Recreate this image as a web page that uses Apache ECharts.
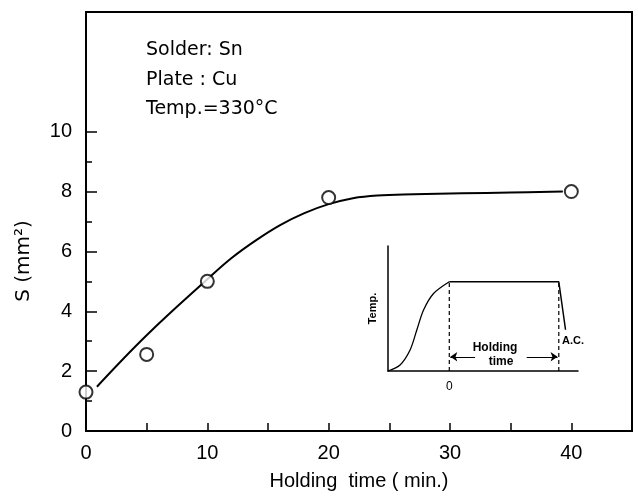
<!DOCTYPE html>
<html>
<head>
<meta charset="utf-8">
<script src="https://cdn.jsdelivr.net/npm/echarts@6/dist/echarts.min.js"></script>
<style>html,body{margin:0;padding:0;background:#fff}#c{width:638px;height:496px}</style>
</head>
<body>
<div id="c"></div>
<script>
// Measured points
const timeMin = [0, 5, 10, 20, 40];
const areaMm2 = [1.3, 2.56, 5.0, 7.8, 8.0];
// Fitted curve
const fitTime = [0.9, 5, 10, 12, 14, 16, 18, 20, 22, 24, 27, 31, 35, 39.3];
const fitArea = [1.48, 3.2, 5.07, 5.78, 6.37, 6.88, 7.28, 7.58, 7.78, 7.87, 7.91, 7.94, 7.97, 8.0];
// Axis ticks
const xMajorTicks = [0, 10, 20, 30, 40];
const xAllTicks = [0, 5, 10, 15, 20, 25, 30, 35, 40];
const yMajorTicks = [0, 2, 4, 6, 8, 10];
const yMinorTicks = [1, 3, 5, 7, 9];
// Inset: heating profile
const insetRiseX = [-3, -2.41, -1.92, -1.59, -1.26, -0.77, 0];
const insetRiseY = [0, 0.048, 0.168, 0.328, 0.488, 0.62, 0.714];
const insetHoldX = [0, 5.36, 5.69];
const insetHoldY = [0.714, 0.714, 0.33];
const insetMarkX = [0, 5.36];
const insetMarkTop = 0.714;
const arrowLeft = [[1.26, 0.114], [0.05, 0.114]];
const arrowRight = [[3.79, 0.114], [5.3, 0.114]];

const F = 'Liberation Sans';
const chart = echarts.init(document.getElementById('c'));
const pair = (xs, ys) => xs.map((x, i) => [x, ys[i]]);

chart.setOption({
  animation: false,
  backgroundColor: '#fff',
  textStyle: {fontFamily: F, color: '#000'},
  grid: [
    {left: 86, top: 12, right: 6, bottom: 65, show: true, borderColor: '#000', borderWidth: 2, backgroundColor: 'transparent'},
    {left: 388, top: 246, width: 190, height: 125, show: false}
  ],
  xAxis: [
    {
      type: 'value', gridIndex: 0, min: 0, max: 45, interval: 10,
      axisLine: {show: true, onZero: false, lineStyle: {color: '#000', width: 2}},
      axisTick: {show: true, inside: true, length: 8, lineStyle: {color: '#000', width: 1.5}, customValues: xAllTicks},
      axisLabel: {fontSize: 20, fontFamily: F, color: '#000', margin: 12, customValues: xMajorTicks},
      splitLine: {show: false},
      name: 'Holding  time ( min.)', nameLocation: 'middle', nameGap: 40,
      nameTextStyle: {fontSize: 20, fontFamily: F, color: '#000'}
    },
    {
      type: 'value', gridIndex: 1, min: -3, max: 6.3, interval: 1,
      axisLine: {show: true, onZero: false, lineStyle: {color: '#000', width: 1.5}},
      axisTick: {show: false},
      axisLabel: {fontSize: 12, fontFamily: F, color: '#000', margin: 10, formatter: v => v === 0 ? '0' : ''},
      splitLine: {show: false}
    }
  ],
  yAxis: [
    {
      type: 'value', gridIndex: 0, min: 0, max: 14, interval: 2,
      axisLine: {show: true, onZero: false, lineStyle: {color: '#000', width: 2}},
      axisTick: {show: true, inside: true, length: 11, lineStyle: {color: '#000', width: 1.5}, customValues: yMajorTicks},
      axisLabel: {fontSize: 20, fontFamily: F, color: '#000', margin: 14, customValues: yMajorTicks},
      splitLine: {show: false}
    },
    {
      type: 'value', gridIndex: 0, min: 0, max: 14, interval: 2, position: 'left',
      axisLine: {show: false, onZero: false},
      axisTick: {show: true, inside: true, length: 6, lineStyle: {color: '#000', width: 1.5}, customValues: yMinorTicks},
      axisLabel: {show: false},
      splitLine: {show: false}
    },
    {
      type: 'value', gridIndex: 1, min: 0, max: 1,
      axisLine: {show: true, onZero: false, lineStyle: {color: '#000', width: 1.5}},
      axisTick: {show: false}, axisLabel: {show: false}, splitLine: {show: false},
      name: 'Temp.', nameLocation: 'middle', nameGap: 10, nameRotate: 90,
      nameTextStyle: {fontSize: 11, fontFamily: F, color: '#000', fontWeight: 'bold'}
    }
  ],
  series: [
    {
      type: 'line', xAxisIndex: 0, yAxisIndex: 0, data: pair(fitTime, fitArea),
      smooth: 0.4, showSymbol: false, lineStyle: {color: '#000', width: 2}, z: 2
    },
    {
      type: 'scatter', xAxisIndex: 0, yAxisIndex: 0, data: pair(timeMin, areaMm2),
      symbol: 'circle', symbolSize: 13,
      itemStyle: {color: '#fff', borderColor: '#000', borderWidth: 2}, z: 5
    },
    {
      type: 'line', xAxisIndex: 1, yAxisIndex: 2, data: pair(insetRiseX, insetRiseY),
      smooth: 0.3, showSymbol: false, lineStyle: {color: '#000', width: 1.3}
    },
    {
      type: 'line', xAxisIndex: 1, yAxisIndex: 2, data: pair(insetHoldX, insetHoldY),
      showSymbol: false, lineStyle: {color: '#000', width: 1.5}
    },
    ...insetMarkX.map(x => ({
      type: 'line', xAxisIndex: 1, yAxisIndex: 2, data: [[x, 0], [x, insetMarkTop]],
      showSymbol: false, lineStyle: {color: '#000', width: 1.2, type: [4, 3]}
    })),
    {
      type: 'lines', coordinateSystem: 'cartesian2d', xAxisIndex: 1, yAxisIndex: 2,
      symbol: ['none', 'arrow'], symbolSize: 7,
      lineStyle: {color: '#000', width: 1.2, opacity: 1},
      data: [{coords: arrowLeft}, {coords: arrowRight}]
    }
  ],
  graphic: [
    {type: 'text', x: 146, y: 50, style: {text: 'Solder: Sn', font: '19px "DejaVu Sans"', fill: '#000', textVerticalAlign: 'middle'}},
    {type: 'text', x: 146, y: 80, style: {text: 'Plate : Cu', font: '19px "DejaVu Sans"', fill: '#000', textVerticalAlign: 'middle'}},
    {type: 'text', x: 146, y: 109, style: {text: 'Temp.=330°C', font: '19px "DejaVu Sans"', fill: '#000', textVerticalAlign: 'middle'}},
    {type: 'text', x: 24, y: 261, rotation: Math.PI / 2, style: {text: 'S (mm²)', font: '20px "DejaVu Sans"', fill: '#000', textAlign: 'center', textVerticalAlign: 'middle'}},
    {type: 'text', x: 495, y: 348, style: {text: 'Holding', font: 'bold 12px "Liberation Sans"', fill: '#000', textAlign: 'center', textVerticalAlign: 'middle'}},
    {type: 'text', x: 501, y: 362, style: {text: 'time', font: 'bold 12px "Liberation Sans"', fill: '#000', textAlign: 'center', textVerticalAlign: 'middle'}},
    {type: 'text', x: 573, y: 341, style: {text: 'A.C.', font: 'bold 11px "Liberation Sans"', fill: '#000', textAlign: 'center', textVerticalAlign: 'middle'}}
  ]
});
</script>
</body>
</html>
